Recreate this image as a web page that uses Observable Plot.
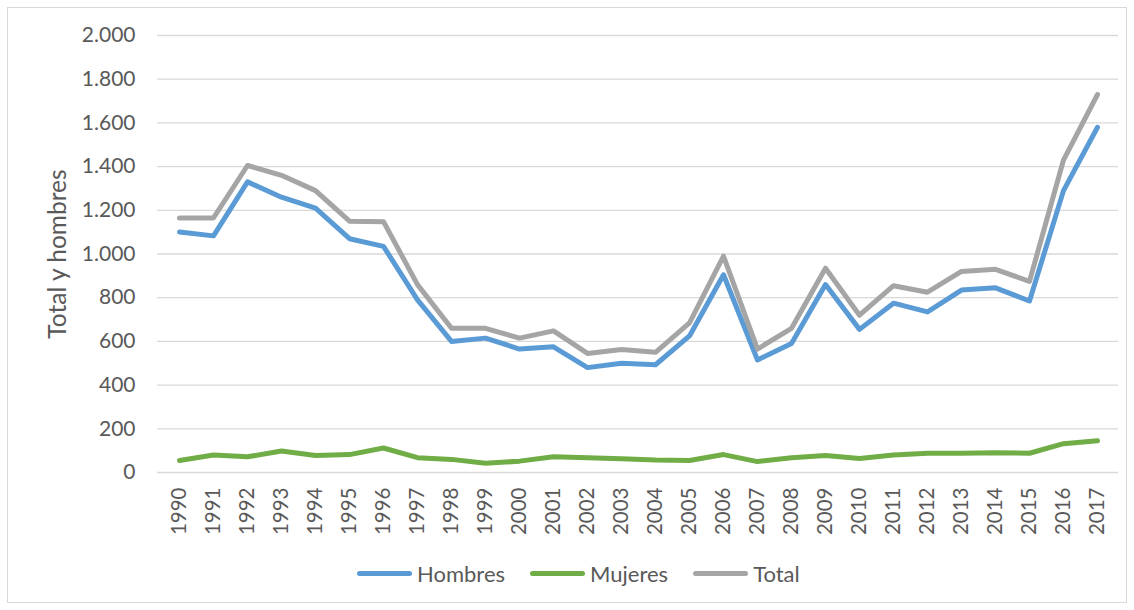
<!DOCTYPE html>
<html>
<head>
<meta charset="utf-8">
<script src="https://cdn.jsdelivr.net/npm/d3@7"></script>
<script src="https://cdn.jsdelivr.net/npm/@observablehq/plot@0.6"></script>
<style>
  html, body { margin: 0; padding: 0; background: #fff; }
  body { width: 1134px; height: 610px; position: relative; overflow: hidden; font-family: Lato, "Open Sans", sans-serif; }
  #frame { position: absolute; left: 7px; top: 7px; width: 1120px; height: 596px; border: 1px solid #d9d9d9; box-sizing: border-box; }
  #chart { position: absolute; left: 0; top: 0; }
  #legend { position: absolute; left: 357px; top: 560px; display: flex; align-items: center; gap: 25px; font-size: 22px; color: #595959; }
  .item { display: flex; align-items: center; gap: 5px; }
  .sw { width: 55px; height: 5px; border-radius: 3px; }
</style>
</head>
<body>
<div id="frame"></div>
<div id="chart"></div>
<div id="legend"></div>
<script>
const years = ["1990","1991","1992","1993","1994","1995","1996","1997","1998","1999","2000","2001","2002","2003","2004","2005","2006","2007","2008","2009","2010","2011","2012","2013","2014","2015","2016","2017"];
const hombres = [1101,1083,1330,1260,1210,1070,1035,790,600,615,565,575,480,500,493,625,905,515,590,860,655,775,735,835,845,785,1290,1580];
const mujeres = [55,80,72,98,78,82,112,68,60,42,52,72,68,63,57,55,82,50,68,78,64,80,88,88,90,88,132,145];
const total = [1165,1165,1405,1360,1290,1150,1148,860,660,660,615,648,545,563,550,685,990,565,660,935,720,855,825,920,930,875,1430,1730];
const seriesNames = ["Hombres","Mujeres","Total"];
const seriesColors = ["#5b9bd5","#70ad47","#a5a5a5"];
const yTicks = [0,200,400,600,800,1000,1200,1400,1600,1800,2000];
const yLabel = "Total y hombres";

const seriesValues = [hombres, mujeres, total];
const data = [];
seriesNames.forEach((name, s) => {
  years.forEach((yr, i) => data.push({series: name, year: yr, value: seriesValues[s][i]}));
});

const locale = d3.formatLocale({decimal: ",", thousands: ".", grouping: [3], currency: ["", "€"]});
const fmt = locale.format(",");

const plot = Plot.plot({
  width: 1134,
  height: 555,
  marginTop: 35,
  marginBottom: 83,
  marginLeft: 157,
  marginRight: 16,
  style: {fontFamily: "Lato, 'Open Sans', sans-serif", fontSize: "21px", color: "#595959", background: "transparent"},
  x: {type: "point", domain: years, padding: 0.5},
  y: {domain: [0, 2000]},
  color: {domain: seriesNames, range: seriesColors},
  marks: [
    Plot.ruleY(yTicks, {stroke: "#d9d9d9", strokeWidth: 1.3}),
    Plot.axisY({ticks: yTicks, tickFormat: fmt, tickSize: 0, tickPadding: 22, label: null, fontSize: 21, fill: "#595959"}),
    Plot.axisX({tickRotate: -90, tickSize: 0, tickPadding: 15, label: null, fontSize: 20.5, fill: "#595959"}),
    Plot.text([yLabel], {frameAnchor: "left", textAnchor: "middle", dx: -99, rotate: -90, text: d => d, fontSize: 24.5, fill: "#595959"}),
    Plot.line(data, {x: "year", y: "value", z: "series", stroke: "series", strokeWidth: 5, strokeLinecap: "round", strokeLinejoin: "round"})
  ]
});
document.getElementById("chart").appendChild(plot);

const legend = document.getElementById("legend");
seriesNames.forEach((name, i) => {
  const item = document.createElement("div");
  item.className = "item";
  const sw = document.createElement("div");
  sw.className = "sw";
  sw.style.background = seriesColors[i];
  const t = document.createElement("span");
  t.textContent = name;
  item.appendChild(sw);
  item.appendChild(t);
  legend.appendChild(item);
});
</script>
</body>
</html>
